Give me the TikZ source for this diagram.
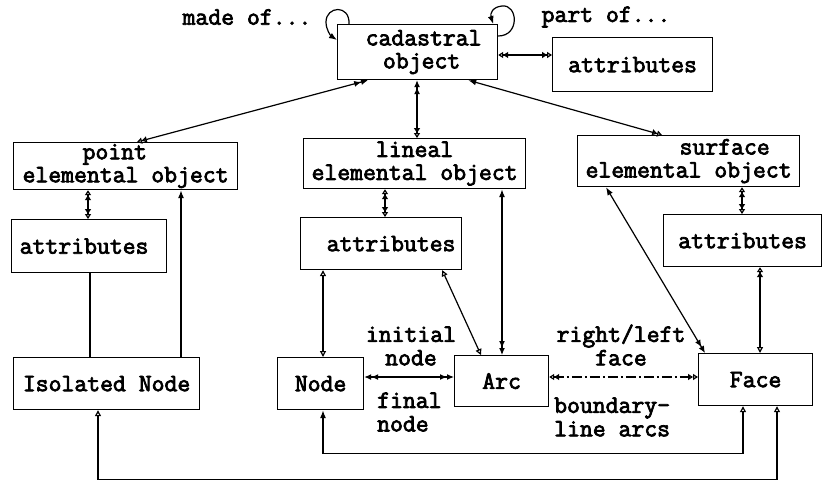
\documentclass[tikz,border=0pt]{standalone}
\usepackage{fontspec}
\newfontfamily\tyf[FakeBold=3]{Latin Modern Mono}
\usetikzlibrary{arrows.meta}
\tikzset{
  Fa/.tip={Latex[length=8pt,width=6pt]},
  FFa/.tip={Latex[length=7pt,width=6pt] Latex[length=7pt,width=6pt]},
  Oa/.tip={Triangle[open,length=6pt,width=6pt]},
  OOa/.tip={Triangle[open,length=5pt,width=6pt] Triangle[open,length=5pt,width=6pt]},
  bx/.style={draw, line width=1.2pt, inner sep=0pt, anchor=north west,
     font=\fontsize{25}{23}\selectfont\tyf, align=center},
  lbl/.style={inner sep=0pt, font=\fontsize{25}{23.5}\selectfont\tyf},
  cn/.style={line width=1.2pt}
}
\begin{document}
\begin{tikzpicture}[x=1pt,y=-1pt]
\useasboundingbox (0,0) rectangle (824,480);
% boxes
\node[bx, minimum width=160pt, minimum height=55pt] (cad) at (337,24) {\hspace*{12pt}cadastral\\\hspace*{8pt}object};
\node[bx, minimum width=160pt, minimum height=54pt] (attrT) at (552,37) {attributes};
\node[bx, minimum width=224pt, minimum height=47pt, align=left] (point) at (13,142) {\hspace*{60pt}point\\elemental object};
\node[bx, minimum width=222pt, minimum height=50pt] (lin) at (303,138) {lineal\\elemental object};
\node[bx, minimum width=222pt, minimum height=51pt, align=left] (surf) at (577,135) {\hspace*{94pt}surface\\elemental object};
\node[bx, minimum width=155pt, minimum height=53pt] (attrL) at (11,219) {attributes\hspace*{10pt}};
\node[bx, minimum width=161pt, minimum height=52pt] (attrM) at (300,217) {\hspace*{20pt}attributes};
\node[bx, minimum width=158pt, minimum height=52pt] (attrR) at (663,214) {attributes};
\node[bx, minimum width=186pt, minimum height=52pt] (iso) at (13,357) {Isolated Node};
\node[bx, minimum width=86pt, minimum height=52pt] (nodeN) at (277,357) {Node};
\node[bx, minimum width=94pt, minimum height=51pt] (arc) at (454,355) {Arc};
\node[bx, minimum width=114pt, minimum height=52pt] (face) at (698,353) {Face};
% labels
\node[lbl] (madeof) at (247,17) {made of...};
\node[lbl] (partof) at (606,17) {part of...};
\node[lbl, align=center] (initn) at (411,346) {initial\\node};
\node[lbl, align=left, anchor=west] (finaln) at (377,412) {final\\node};
\node[lbl, align=center] (rlface) at (621,345) {right/left\\face};
\node[lbl, align=left, anchor=west] (blarcs) at (554,417) {boundary-\\line arcs};
% self loops
\draw[cn,-Fa] ([xshift=12pt]cad.north west) .. controls (350,4) and (326,6) .. (326,22)
   .. controls (326,30) and (331,36) .. ([yshift=-16pt]cad.north west);
\draw[cn,-Fa] ([yshift=-12pt]cad.north east) .. controls (520,36) and (518,4) .. (502,6)
   .. controls (492,7) and (490,14) .. ([xshift=-5pt]cad.north east);
% connectors
\draw[cn,OOa-OOa] ([yshift=-31pt]cad.north east) -- ([yshift=-18pt]attrT.north west);
\draw[cn,OOa-FFa] ([xshift=124pt]point.north west) -- ([xshift=31pt]cad.south west);
\draw[cn,OOa-FFa] ([xshift=114pt]lin.north west) -- ([xshift=80pt]cad.south west);
\draw[cn,OOa-Fa] ([xshift=85pt]surf.north west) -- ([xshift=-30pt]cad.south east);
\draw[cn,OOa-OOa] ([xshift=75pt]point.south west) -- ([xshift=77pt]attrL.north west);
\draw[cn,-Fa] ([xshift=168pt]iso.north west) -- ([xshift=168pt]point.south west);
\draw[cn] ([xshift=79pt]attrL.south west) -- ([xshift=77pt]iso.north west);
\draw[cn,OOa-OOa] ([xshift=82pt]lin.south west) -- ([xshift=85pt]attrM.north west);
\draw[cn,Oa-Oa] ([xshift=23pt]attrM.south west) -- ([xshift=46pt]nodeN.north west);
\draw[cn,Oa-Oa] ([xshift=-20pt]attrM.south east) -- ([xshift=27pt]arc.north west);
\draw[cn,Fa-FFa] ([xshift=199pt]lin.south west) -- ([xshift=48pt]arc.north west);
\draw[cn,Fa-FFa] ([xshift=29pt]surf.south west) -- ([xshift=7pt]face.north west);
\draw[cn,OOa-OOa] ([xshift=165pt]surf.south west) -- ([xshift=79pt]attrR.north west);
\draw[cn,OOa-Oa] ([xshift=97pt]attrR.south west) -- ([xshift=62pt]face.north west);
\draw[cn,FFa-FFa] ([yshift=-20pt]nodeN.north east) -- ([yshift=-22pt]arc.north west);
\draw[cn,OOa-OOa,dash pattern=on 10pt off 3pt on 2pt off 3pt] ([yshift=-22pt]arc.north east) -- ([yshift=-24pt]face.north west);
\draw[cn,Fa-Oa] ([xshift=46pt]nodeN.south west) -- ++(0,43) -| ([xshift=45pt]face.south west);
\draw[cn,Oa-Oa] ([xshift=85pt]iso.south west) -- ++(0,69) -| ([xshift=79pt]face.south west);
\end{tikzpicture}
\end{document}
